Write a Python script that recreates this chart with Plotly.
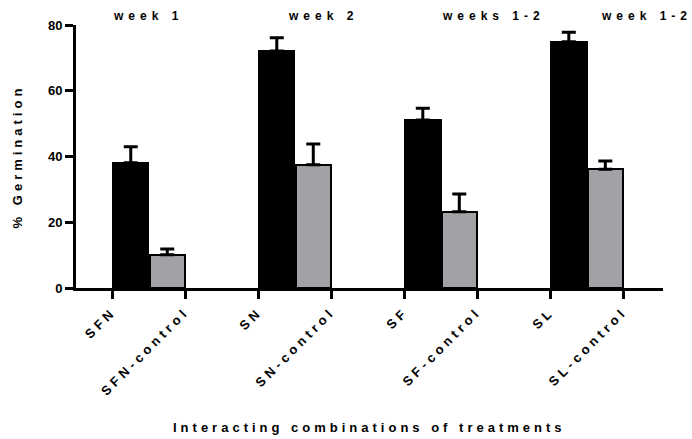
import plotly.graph_objects as go

# Germination data (%), treatment vs. matching control
groups = ["SFN", "SN", "SF", "SL"]
treatment_vals = [38.1, 72.1, 51.1, 74.9]
treatment_err = [4.9, 4.0, 3.6, 2.9]
control_vals = [10.1, 37.5, 23.2, 36.1]
control_err = [1.8, 6.3, 5.4, 2.5]
period_labels = ["week 1", "week 2", "weeks 1-2", "week 1-2"]
period_pos = [0.97, 5.77, 10.45, 14.64]
y_ticks = [0, 20, 40, 60, 80]

FONT = "Liberation Sans, Arial, sans-serif"


def spaced(text, px):
    return f'<span style="letter-spacing:{px}px">{text}</span>'


def bold(size):
    return dict(family=FONT, size=size, color="#000000", weight="bold")


# numeric positions: each group occupies 4 units, bars 1 unit wide
treat_x = [4 * i + 0.5 for i in range(len(groups))]
ctrl_x = [4 * i + 1.5 for i in range(len(groups))]
tick_x = []
tick_txt = []
for i, g in enumerate(groups):
    tick_x += [4 * i, 4 * i + 2]
    tick_txt += [spaced(g, 4), spaced(g + "-control", 4)]

fig = go.Figure()
fig.add_trace(go.Bar(
    x=treat_x, y=treatment_vals, width=0.97,
    marker=dict(color="#000000", line=dict(color="#000000", width=2)),
    error_y=dict(type="data", array=treatment_err, arrayminus=[0] * 4,
                 symmetric=False, color="#000000", thickness=3, width=7),
    showlegend=False,
))
fig.add_trace(go.Bar(
    x=ctrl_x, y=control_vals, width=0.97,
    marker=dict(color="#a1a1a6", line=dict(color="#000000", width=2)),
    error_y=dict(type="data", array=control_err, arrayminus=[0] * 4,
                 symmetric=False, color="#000000", thickness=3, width=7),
    showlegend=False,
))

for lab, xp in zip(period_labels, period_pos):
    fig.add_annotation(x=xp, y=1.034, xref="x", yref="paper",
                       text=spaced(lab, 5), showarrow=False,
                       xanchor="center", yanchor="middle", font=bold(12))

fig.add_annotation(x=0.5, y=-0.532, xref="paper", yref="paper",
                   text=spaced("Interacting combinations of treatments", 4),
                   showarrow=False, xanchor="center", yanchor="middle", font=bold(13))
fig.add_annotation(x=-0.099, y=0.5, xref="paper", yref="paper",
                   text=spaced("% Germination", 4), textangle=-90,
                   showarrow=False, xanchor="center", yanchor="middle", font=bold(13))

fig.update_layout(
    width=692, height=439,
    margin=dict(l=76, r=29, t=25, b=151),
    paper_bgcolor="white", plot_bgcolor="white",
    barmode="overlay", bargap=0,
)
fig.update_xaxes(
    range=[-1.0, 15.08], showgrid=False, zeroline=False,
    showline=True, linecolor="#000000", linewidth=3,
    tickmode="array", tickvals=tick_x, ticktext=tick_txt, tickangle=-45,
    ticks="outside", ticklen=8, tickwidth=3, tickcolor="#000000",
    tickfont=bold(13), automargin=False,
)
fig.update_yaxes(
    range=[0, 80], showgrid=False, zeroline=False,
    showline=True, linecolor="#000000", linewidth=3,
    tickmode="array", tickvals=y_ticks,
    ticks="outside", ticklen=8, tickwidth=3, tickcolor="#000000",
    tickfont=bold(13), automargin=False,
)

fig.write_html("out.html")
